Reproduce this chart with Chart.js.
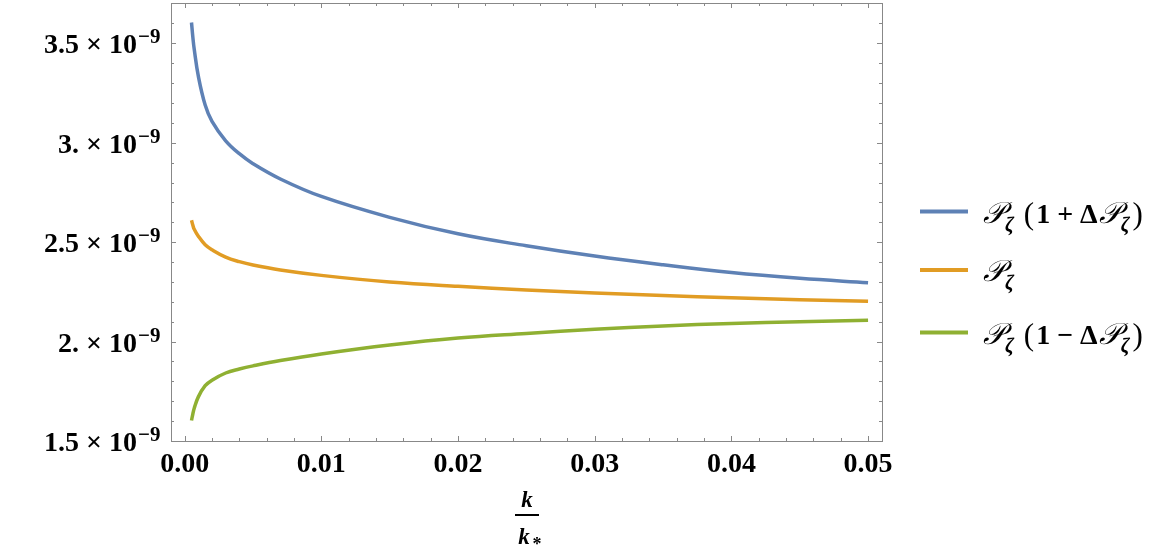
<!DOCTYPE html>
<html>
<head>
<meta charset="utf-8">
<script src="https://cdn.jsdelivr.net/npm/chart.js@4.4.1/dist/chart.umd.min.js"></script>
<style>
  html, body { margin: 0; padding: 0; background: #fff; }
</style>
</head>
<body>
<canvas id="powerChart" width="1163" height="553"></canvas>
<script>
// k / k*
const kValues = [0.0005, 0.0006, 0.0007, 0.001, 0.0015, 0.002, 0.003, 0.004, 0.005, 0.007,
                 0.01, 0.015, 0.02, 0.025, 0.03, 0.035, 0.04, 0.045, 0.05];
// values in units of 1e-9
const upperValues   = [3.605, 3.530, 3.470, 3.335, 3.190, 3.108, 3.010, 2.945, 2.895, 2.818,
                       2.730, 2.625, 2.542, 2.482, 2.430, 2.386, 2.347, 2.318, 2.296];
const centralValues = [2.610, 2.585, 2.565, 2.530, 2.487, 2.462, 2.425, 2.402, 2.385, 2.360,
                       2.333, 2.300, 2.278, 2.260, 2.245, 2.232, 2.220, 2.211, 2.203];
const lowerValues   = [1.603, 1.637, 1.665, 1.722, 1.778, 1.806, 1.842, 1.862, 1.878, 1.905,
                       1.938, 1.983, 2.018, 2.041, 2.062, 2.079, 2.091, 2.100, 2.107];

const xMajorTicks = [0, 0.01, 0.02, 0.03, 0.04, 0.05];
const xTickLabels = ['0.00', '0.01', '0.02', '0.03', '0.04', '0.05'];
const yMajorTicks = [1.5, 2.0, 2.5, 3.0, 3.5];
const yTickLabels = ['1.5', '2.', '2.5', '3.', '3.5'];

const colors = ['#5E81B5', '#E19C24', '#8FB032'];
const frameColor = '#888888';
const numFont = 'bold 28px "Liberation Serif", "Times New Roman", serif';
const supFont = 'bold 21px "Liberation Serif", "Times New Roman", serif';

function toPoints(values) {
  return kValues.map((k, i) => ({ x: k, y: values[i] }));
}

// draw a run of text pieces with their own fonts and vertical offsets
function drawRich(ctx, x, y, parts) {
  parts.forEach(p => {
    ctx.font = p.font;
    ctx.fillText(p.t, x, y + (p.dy || 0));
    x += ctx.measureText(p.t).width + (p.gap || 0);
  });
  return x;
}

const framePlugin = {
  id: 'mmaFrame',
  afterDraw(chart) {
    const ctx = chart.ctx;
    const area = chart.chartArea;
    const xs = chart.scales.x;
    const ys = chart.scales.y;
    ctx.save();

    // frame
    ctx.strokeStyle = frameColor;
    ctx.lineWidth = 1;
    ctx.strokeRect(area.left + 0.5, area.top + 0.5, area.right - area.left, area.bottom - area.top);

    // x ticks (inward, bottom and top)
    ctx.beginPath();
    for (let i = 0; i <= 25; i++) {
      const v = i * 0.002;
      const px = Math.round(xs.getPixelForValue(v)) + 0.5;
      const len = (i % 5 === 0) ? 5 : 3;
      ctx.moveTo(px, area.bottom); ctx.lineTo(px, area.bottom - len);
      ctx.moveTo(px, area.top); ctx.lineTo(px, area.top + len);
    }
    // y ticks (inward, left and right)
    for (let i = 0; i <= 21; i++) {
      const v = 1.5 + i * 0.1;
      const py = Math.round(ys.getPixelForValue(v)) + 0.5;
      const len = (i % 5 === 0) ? 5 : 3;
      ctx.moveTo(area.left, py); ctx.lineTo(area.left + len, py);
      ctx.moveTo(area.right, py); ctx.lineTo(area.right - len, py);
    }
    ctx.stroke();

    ctx.fillStyle = '#000';
    ctx.textBaseline = 'alphabetic';

    // x tick labels
    ctx.font = numFont;
    ctx.textAlign = 'center';
    xMajorTicks.forEach((v, i) => {
      ctx.fillText(xTickLabels[i], xs.getPixelForValue(v), 472);
    });

    // y tick labels: mantissa × 10^-9
    yMajorTicks.forEach((v, i) => {
      const py = ys.getPixelForValue(v);
      ctx.textAlign = 'right';
      ctx.font = numFont;
      ctx.fillText(yTickLabels[i] + ' \u00D7 10', 137, py + 10);
      ctx.textAlign = 'left';
      ctx.font = supFont;
      ctx.fillText('\u22129', 138, py);
    });

    // x axis title: k / k*
    ctx.textAlign = 'center';
    ctx.font = 'italic bold 23px "Liberation Serif", serif';
    ctx.fillText('k', 527, 507);
    ctx.fillRect(515, 514, 24, 2);
    ctx.fillText('k', 524, 544);
    ctx.font = 'bold 18px "Liberation Serif", serif';
    ctx.fillText('*', 537, 550);

    // legend
    const labels = [
      [{ t: '(' }, { t: '1 + \u0394' }, 'P', { t: ')' }],
      [],
      [{ t: '(' }, { t: '1 \u2212 \u0394' }, 'P', { t: ')' }]
    ];
    const rows = [211.5, 270, 332.5];
    const pFont = 'italic 30px "DejaVu Serif", "Liberation Serif", serif';
    const zFont = 'italic bold 20px "Liberation Serif", serif';
    const tFont = 'bold 28px "Liberation Serif", serif';
    const parenFont = '31px "Liberation Serif", serif';
    rows.forEach((ry, i) => {
      ctx.strokeStyle = colors[i];
      ctx.lineWidth = 4;
      ctx.beginPath();
      ctx.moveTo(920, ry); ctx.lineTo(968, ry);
      ctx.stroke();
      ctx.textAlign = 'left';
      let x = drawRich(ctx, 983, ry + 11, [
        { t: '\uD835\uDCAB', font: pFont },
        { t: '\u03B6', font: zFont, dy: 8, gap: 10 }
      ]);
      labels[i].forEach(part => {
        if (part === 'P') {
          x = drawRich(ctx, x, ry + 11, [
            { t: '\uD835\uDCAB', font: pFont },
            { t: '\u03B6', font: zFont, dy: 8, gap: 3 }
          ]);
        } else if (part.t === '(' || part.t === ')') {
          x = drawRich(ctx, x, ry + 12, [{ t: part.t, font: parenFont, gap: 2 }]);
        } else {
          x = drawRich(ctx, x, ry + 11, [{ t: part.t, font: tFont, gap: 1 }]);
        }
      });
    });

    ctx.restore();
  }
};

const ctx = document.getElementById('powerChart').getContext('2d');
new Chart(ctx, {
  type: 'line',
  data: {
    datasets: [
      { label: 'upper', data: toPoints(upperValues), borderColor: colors[0] },
      { label: 'central', data: toPoints(centralValues), borderColor: colors[1] },
      { label: 'lower', data: toPoints(lowerValues), borderColor: colors[2] }
    ]
  },
  options: {
    responsive: false,
    animation: false,
    devicePixelRatio: 1,
    layout: { padding: { left: 171, top: 3, right: 281, bottom: 112 } },
    elements: {
      point: { radius: 0 },
      line: { borderWidth: 3.5, tension: 0.4, fill: false }
    },
    scales: {
      x: { type: 'linear', min: -0.001, max: 0.05102, display: false },
      y: { type: 'linear', min: 1.5, max: 3.703, display: false }
    },
    plugins: {
      legend: { display: false },
      tooltip: { enabled: false }
    }
  },
  plugins: [framePlugin]
});
</script>
</body>
</html>
